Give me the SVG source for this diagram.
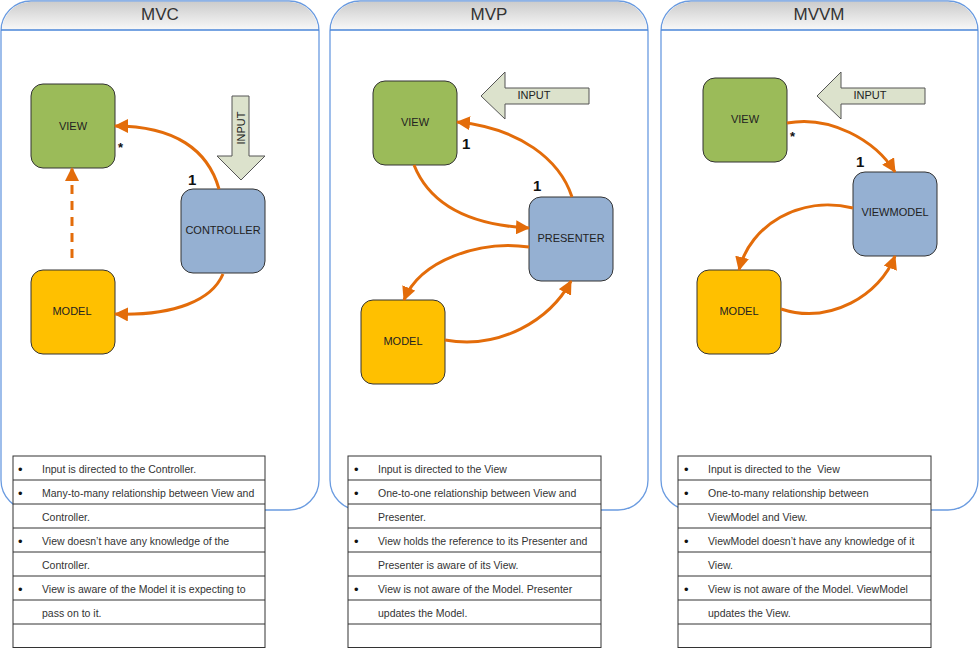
<svg xmlns="http://www.w3.org/2000/svg" width="979" height="648" viewBox="0 0 979 648">
<style>
.panel{fill:#fff;stroke:#6a9be0;stroke-width:1.3}
.hdr{fill:url(#hg)}
.hline{stroke:#4a86d8;stroke-width:1.3}
.title{font-family:"Liberation Sans",Arial,sans-serif;font-size:17px;fill:#333;text-anchor:middle}
.node{stroke:#333;stroke-width:1}
.view{fill:#9bbb59}
.blue{fill:#95b0d2}
.model{fill:#ffc000}
.lbl{font-family:"Liberation Sans",Arial,sans-serif;font-size:11px;fill:#222;text-anchor:middle}
.input{fill:#dce2cc;stroke:#555;stroke-width:1}
.conn{fill:none;stroke:#e36c0a;stroke-width:3;marker-end:url(#ah)}
.dash{stroke-dasharray:9,7}
.num{font-family:"Liberation Sans",Arial,sans-serif;font-size:15px;font-weight:bold;fill:#111}
.star{font-family:"Liberation Sans",Arial,sans-serif;font-size:13px;font-weight:bold;fill:#111}
.tbl{fill:#fff;stroke:#333;stroke-width:1}
.row{stroke:#333;stroke-width:1}
.tt{font-family:"Liberation Sans",Arial,sans-serif;font-size:10.5px;fill:#333}
.bul{font-family:"Liberation Sans",Arial,sans-serif;font-size:13px;fill:#111}
</style>
<defs>
<linearGradient id="hg" x1="0" y1="0" x2="0" y2="1">
<stop offset="0" stop-color="#cccccc"/>
<stop offset="1" stop-color="#fafafa"/>
</linearGradient>
<marker id="ah" markerUnits="userSpaceOnUse" markerWidth="14" markerHeight="14" refX="13" refY="7" orient="auto" viewBox="0 0 14 14">
<path d="M0,0 L14,7 L0,14 z" fill="#e36c0a"/>
</marker>
</defs>

<!-- Panels -->
<g id="panel-mvc">
<rect class="panel" x="1" y="1" width="318" height="509" rx="30" ry="30"/>
<path class="hdr" d="M1.7,30 L1.7,31 A30,30 0 0 1 31,1.7 L289,1.7 A30,30 0 0 1 318.3,31 L318.3,30 Z"/>
<line class="hline" x1="1" y1="30" x2="319" y2="30"/>
<text class="title" x="160" y="20">MVC</text>
</g>
<g id="panel-mvp">
<rect class="panel" x="330" y="1" width="318" height="509" rx="30" ry="30"/>
<path class="hdr" d="M330.7,30 L330.7,31 A30,30 0 0 1 360,1.7 L618,1.7 A30,30 0 0 1 647.3,31 L647.3,30 Z"/>
<line class="hline" x1="330" y1="30" x2="648" y2="30"/>
<text class="title" x="489" y="20">MVP</text>
</g>
<g id="panel-mvvm">
<rect class="panel" x="661" y="1" width="317" height="509" rx="30" ry="30"/>
<path class="hdr" d="M661.7,30 L661.7,31 A30,30 0 0 1 691,1.7 L948,1.7 A30,30 0 0 1 977.3,31 L977.3,30 Z"/>
<line class="hline" x1="661" y1="30" x2="978" y2="30"/>
<text class="title" x="819" y="20">MVVM</text>
</g>

<!-- MVC nodes -->
<g id="mvc-view"><rect class="node view" x="31" y="84" width="84" height="84" rx="12"/><text class="lbl" x="73" y="130">VIEW</text></g>
<g id="mvc-controller"><rect class="node blue" x="181" y="189" width="84" height="84" rx="12"/><text class="lbl" x="223" y="234">CONTROLLER</text></g>
<g id="mvc-model"><rect class="node model" x="31" y="270" width="84" height="84" rx="12"/><text class="lbl" x="72" y="315">MODEL</text></g>
<g id="mvc-input"><polygon class="input" points="232,96 249,96 249,156 265,156 241,180 217,156 232,156"/><text class="lbl" transform="translate(244.5,128) rotate(-90)">INPUT</text></g>

<!-- MVP nodes -->
<g id="mvp-view"><rect class="node view" x="373" y="81" width="84" height="84" rx="12"/><text class="lbl" x="415" y="126">VIEW</text></g>
<g id="mvp-presenter"><rect class="node blue" x="529" y="197" width="84" height="84" rx="12"/><text class="lbl" x="571" y="242">PRESENTER</text></g>
<g id="mvp-model"><rect class="node model" x="361" y="300" width="84" height="84" rx="12"/><text class="lbl" x="403" y="345">MODEL</text></g>
<g id="mvp-input"><polygon class="input" points="481,96 505,72 505,88 589,88 589,104 505,104 505,119"/><text class="lbl" x="534" y="99">INPUT</text></g>

<!-- MVVM nodes -->
<g id="mvvm-view"><rect class="node view" x="703" y="78" width="84" height="84" rx="12"/><text class="lbl" x="745" y="123">VIEW</text></g>
<g id="mvvm-viewmodel"><rect class="node blue" x="853" y="172" width="84" height="84" rx="12"/><text class="lbl" x="895" y="216">VIEWMODEL</text></g>
<g id="mvvm-model"><rect class="node model" x="697" y="270" width="84" height="84" rx="12"/><text class="lbl" x="739" y="315">MODEL</text></g>
<g id="mvvm-input"><polygon class="input" points="817,96 841,72 841,88 925,88 925,104 841,104 841,119"/><text class="lbl" x="870" y="99">INPUT</text></g>

<!-- Connectors -->
<g id="connectors">
<path class="conn" d="M219,189 C208,150 175,126 115,126"/>
<path class="conn" d="M223,274 C212,300 175,316 115,314"/>
<path class="conn dash" d="M72,258 L72,168"/>
<path class="conn" d="M572,197 C560,160 520,128 457,122"/>
<path class="conn" d="M414,165 C430,205 470,225 529,228"/>
<path class="conn" d="M529,247 C480,240 420,260 404,300"/>
<path class="conn" d="M445,340 C500,350 550,320 571,281"/>
<path class="conn" d="M787,123 C830,115 875,140 895,172"/>
<path class="conn" d="M853,208 C800,195 750,225 739,270"/>
<path class="conn" d="M781,309 C830,325 880,295 895,256"/>
</g>

<!-- Multiplicity labels -->
<g id="labels">
<text class="star" x="118" y="152">*</text>
<text class="num" x="188" y="185">1</text>
<text class="num" x="462" y="149">1</text>
<text class="num" x="533" y="191">1</text>
<text class="star" x="790" y="141">*</text>
<text class="num" x="856" y="167">1</text>
</g>

<!-- Tables -->
<g id="table-mvc">
<rect class="tbl" x="13" y="456" width="252" height="191.5"/>
<line class="row" x1="13" y1="480" x2="265" y2="480"/>
<line class="row" x1="13" y1="504" x2="265" y2="504"/>
<line class="row" x1="13" y1="528" x2="265" y2="528"/>
<line class="row" x1="13" y1="552" x2="265" y2="552"/>
<line class="row" x1="13" y1="576" x2="265" y2="576"/>
<line class="row" x1="13" y1="600" x2="265" y2="600"/>
<line class="row" x1="13" y1="624" x2="265" y2="624"/>
<text class="bul" x="18" y="474">•</text><text class="tt" x="42" y="473">Input is directed to the Controller.</text>
<text class="bul" x="18" y="498">•</text><text class="tt" x="42" y="497">Many-to-many relationship between View and</text>
<text class="tt" x="42" y="521">Controller.</text>
<text class="bul" x="18" y="546">•</text><text class="tt" x="42" y="545">View doesn’t have any knowledge of the</text>
<text class="tt" x="42" y="569">Controller.</text>
<text class="bul" x="18" y="594">•</text><text class="tt" x="42" y="593">View is aware of the Model it is expecting to</text>
<text class="tt" x="42" y="617">pass on to it.</text>
</g>
<g id="table-mvp">
<rect class="tbl" x="348" y="456" width="253" height="191.5"/>
<line class="row" x1="348" y1="480" x2="601" y2="480"/>
<line class="row" x1="348" y1="504" x2="601" y2="504"/>
<line class="row" x1="348" y1="528" x2="601" y2="528"/>
<line class="row" x1="348" y1="552" x2="601" y2="552"/>
<line class="row" x1="348" y1="576" x2="601" y2="576"/>
<line class="row" x1="348" y1="600" x2="601" y2="600"/>
<line class="row" x1="348" y1="624" x2="601" y2="624"/>
<text class="bul" x="354" y="474">•</text><text class="tt" x="378" y="473">Input is directed to the View</text>
<text class="bul" x="354" y="498">•</text><text class="tt" x="378" y="497">One-to-one relationship between View and</text>
<text class="tt" x="378" y="521">Presenter.</text>
<text class="bul" x="354" y="546">•</text><text class="tt" x="378" y="545">View holds the reference to its Presenter and</text>
<text class="tt" x="378" y="569">Presenter is aware of its View.</text>
<text class="bul" x="354" y="594">•</text><text class="tt" x="378" y="593">View is not aware of the Model. Presenter</text>
<text class="tt" x="378" y="617">updates the Model.</text>
</g>
<g id="table-mvvm">
<rect class="tbl" x="678" y="456" width="253" height="191.5"/>
<line class="row" x1="678" y1="480" x2="931" y2="480"/>
<line class="row" x1="678" y1="504" x2="931" y2="504"/>
<line class="row" x1="678" y1="528" x2="931" y2="528"/>
<line class="row" x1="678" y1="552" x2="931" y2="552"/>
<line class="row" x1="678" y1="576" x2="931" y2="576"/>
<line class="row" x1="678" y1="600" x2="931" y2="600"/>
<line class="row" x1="678" y1="624" x2="931" y2="624"/>
<text class="bul" x="684" y="474">•</text><text class="tt" x="708" y="473" xml:space="preserve">Input is directed to the  View</text>
<text class="bul" x="684" y="498">•</text><text class="tt" x="708" y="497">One-to-many relationship between</text>
<text class="tt" x="708" y="521">ViewModel and View.</text>
<text class="bul" x="684" y="546">•</text><text class="tt" x="708" y="545">ViewModel doesn’t have any knowledge of it</text>
<text class="tt" x="708" y="569">View.</text>
<text class="bul" x="684" y="594">•</text><text class="tt" x="708" y="593">View is not aware of the Model. ViewModel</text>
<text class="tt" x="708" y="617">updates the View.</text>
</g>
</svg>
